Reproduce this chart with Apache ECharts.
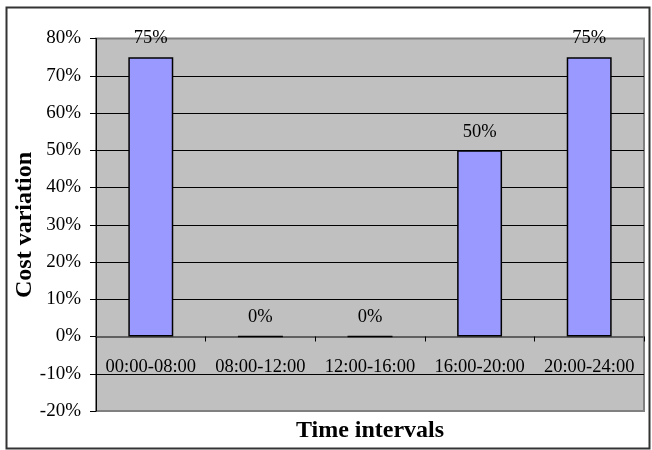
<!DOCTYPE html>
<html>
<head>
<meta charset="utf-8">
<script src="https://cdn.jsdelivr.net/npm/echarts@6/dist/echarts.min.js"></script>
<style>
  html, body { margin: 0; padding: 0; background: #fff; }
  #chart { width: 652px; height: 450px; }
</style>
</head>
<body>
<div id="chart"></div>
<script>
// Time slots and the cost variation (in percent) for each one
const categories = ['00:00-08:00', '08:00-12:00', '12:00-16:00', '16:00-20:00', '20:00-24:00'];
const costVariation = [75, 0, 0, 50, 75];
const yTicks = { min: -20, max: 80, step: 10 };
const yTitle = 'Cost variation';
const xTitle = 'Time intervals';

const FONT = '"Liberation Serif", "Times New Roman", serif';

const chart = echarts.init(document.getElementById('chart'), null, { renderer: 'canvas' });

chart.setOption({
  animation: false,
  backgroundColor: '#ffffff',
  textStyle: { fontFamily: FONT, color: '#000' },
  graphic: [{
    // outer frame
    type: 'rect',
    left: 4, top: 5,
    shape: { width: 643, height: 441 },
    style: { fill: 'none', stroke: '#333', lineWidth: 2 },
    silent: true,
    z: 100
  }, {
    // vertical axis title, rotated to read bottom-to-top
    type: 'text',
    x: 25,
    y: 225,
    rotation: Math.PI / 2,
    style: {
      text: yTitle,
      fontFamily: FONT,
      fontSize: 24,
      fontWeight: 'bold',
      fill: '#000',
      textAlign: 'center',
      textVerticalAlign: 'middle'
    },
    silent: true
  }],
  grid: {
    left: 96, right: 8, top: 38.5, bottom: 39,
    outerBoundsMode: 'none',
    containLabel: false,
    show: true,
    backgroundColor: '#c0c0c0',
    borderColor: '#808080',
    borderWidth: 2
  },
  xAxis: {
    type: 'category',
    data: categories,
    name: xTitle,
    nameLocation: 'middle',
    nameGap: 8,
    nameTextStyle: { fontFamily: FONT, fontSize: 24, fontWeight: 'bold', color: '#000' },
    axisLine: { onZero: true, lineStyle: { color: '#606060', width: 2 } },
    axisTick: { show: true, alignWithLabel: false, length: 5, lineStyle: { color: '#000' } },
    axisLabel: { interval: 0, fontFamily: FONT, fontSize: 18.5, color: '#000', margin: -53 },
    splitLine: { show: false }
  },
  yAxis: {
    type: 'value',
    min: yTicks.min,
    max: yTicks.max,
    interval: yTicks.step,
    axisLine: { show: true, lineStyle: { color: '#000', width: 1 } },
    axisTick: { show: true, length: 6, lineStyle: { color: '#000' } },
    axisLabel: { fontFamily: FONT, fontSize: 19, color: '#000', margin: 15, formatter: '{value}%' },
    splitLine: { show: true, showMinLine: false, showMaxLine: false, lineStyle: { color: '#000', width: 1 } }
  },
  series: [{
    type: 'bar',
    data: costVariation,
    barWidth: '41%',
    itemStyle: { color: '#9999ff', borderColor: '#000', borderWidth: 1.5 },
    label: {
      show: true,
      position: 'top',
      distance: 9,
      fontFamily: FONT,
      fontSize: 18.5,
      color: '#000',
      formatter: '{c}%'
    }
  }]
});
</script>
</body>
</html>
